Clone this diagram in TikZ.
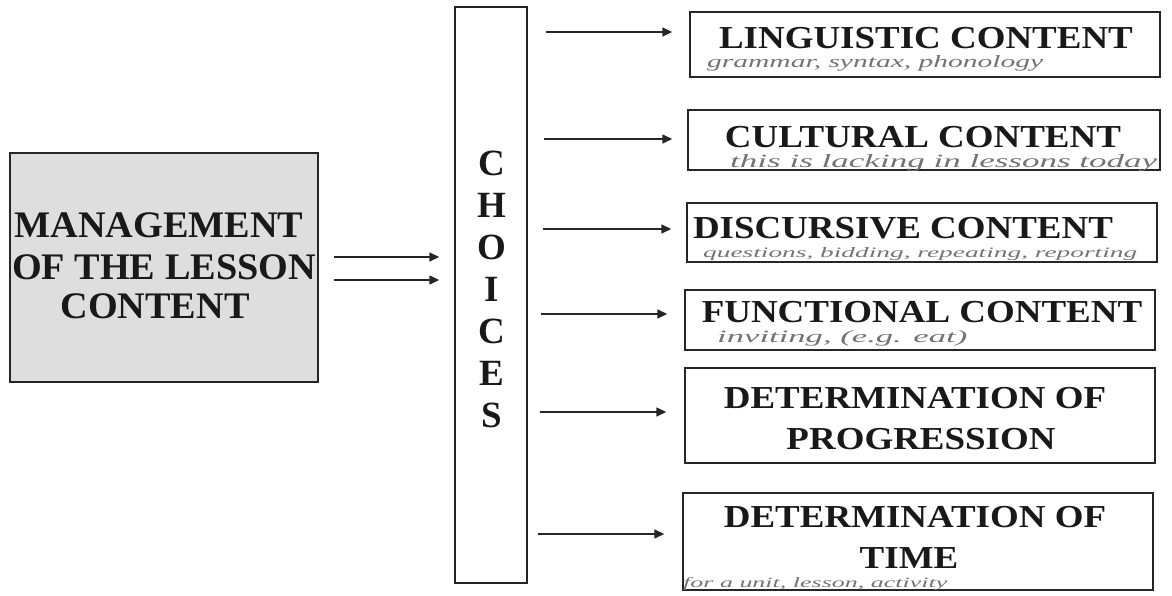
\documentclass[tikz,border=0pt]{standalone}
\usepackage{fontspec}
\setmainfont{Liberation Serif}
\newfontfamily\rightboxfont[FakeStretch=1.155]{Liberation Serif}
\newfontfamily\leftboxfont[FakeStretch=1.02]{Liberation Serif}
\usetikzlibrary{arrows.meta}
\newcommand{\handnote}[3]{\resizebox{#1}{#2}{\itshape #3}}
\begin{document}
\begin{tikzpicture}[x=1pt,y=-1pt,
  box/.style={draw=black!85, line width=1.4pt, inner sep=0pt},
  lbl/.style={anchor=base, inner sep=0pt, text=black!90},
  rtxt/.style={lbl, text depth=0pt, font=\rightboxfont\bfseries\fontsize{32}{36}\selectfont},
  ltxt/.style={lbl, font=\leftboxfont\bfseries\fontsize{37.5}{40}\selectfont},
  ctxt/.style={lbl, font=\bfseries\fontsize{37}{40}\selectfont},
  arr/.style={draw=black!85, line width=1.4pt, -{Triangle[length=10pt,width=9pt]}},
  note/.style={anchor=base west, inner sep=0pt, text=black!55}]
\useasboundingbox (0,0) rectangle (1172,595);

% left box
\node[box, fill=black!13, minimum width=308pt, minimum height=229pt] (mgmt) at (164,267.5) {};
\node[ltxt] (m1) at (159,237) {MANAGEMENT};
\node[ltxt] (m2) at (164,279) {OF THE LESSON};
\node[ltxt] (m3) at (155,318) {CONTENT};

% choices column
\node[box, minimum width=72pt, minimum height=576pt] (choices) at (491,295) {};
\foreach \l [count=\i] in {C,H,O,I,C,E,S}
  \node[ctxt] (ch\i) at (492,{163+42*(\i-1)+12.5}) {\l};

% right boxes
\node[box, minimum width=470pt, minimum height=65pt] (b1) at (925,44.5) {};
\node[box, minimum width=472pt, minimum height=60pt] (b2) at (924,140) {};
\node[box, minimum width=470pt, minimum height=59pt] (b3) at (922,232.5) {};
\node[box, minimum width=470pt, minimum height=60pt] (b4) at (920,320) {};
\node[box, minimum width=470pt, minimum height=95pt] (b5) at (920,415.5) {};
\node[box, minimum width=470pt, minimum height=97pt] (b6) at (918,541.5) {};

\node[rtxt] (t1) at (926,48) {LINGUISTIC CONTENT};
\node[rtxt] (t2) at (923,147) {CULTURAL CONTENT};
\node[rtxt] (t3) at (903,238) {DISCURSIVE CONTENT};
\node[rtxt] (t4) at (922,322) {FUNCTIONAL CONTENT};
\node[rtxt] (t5a) at (915,408) {DETERMINATION OF};
\node[rtxt] (t5b) at (921,449) {PROGRESSION};
\node[rtxt] (t6a) at (915,527) {DETERMINATION OF};
\node[rtxt] (t6b) at (909,568) {TIME};

% handwritten notes
\node[note] (n1) at (707,67) {\handnote{336pt}{12pt}{grammar, syntax, phonology}};
\node[note] (n2) at (730,167) {\handnote{427pt}{13pt}{this is lacking in lessons today}};
\node[note] (n3) at (703,257) {\handnote{434pt}{10pt}{questions, bidding, repeating, reporting}};
\node[note] (n4) at (717,342) {\handnote{250pt}{12pt}{inviting, (e.g. eat)}};
\node[note] (n6) at (683,587) {\handnote{264pt}{10pt}{for a unit, lesson, activity}};

% arrows left -> choices
\draw[arr, shorten <=15pt, shorten >=15pt] (mgmt.east |- 0,257) -- (choices.west |- 0,257);
\draw[arr, shorten <=15pt, shorten >=15pt] (mgmt.east |- 0,280) -- (choices.west |- 0,280);

% arrows choices -> boxes
\draw[arr, shorten <=18pt, shorten >=17pt] (choices.east |- 0,32) -- (b1.west |- 0,32);
\draw[arr, shorten <=16pt, shorten >=15pt] (choices.east |- 0,139) -- (b2.west |- 0,139);
\draw[arr, shorten <=15pt, shorten >=15pt] (choices.east |- 0,229) -- (b3.west |- 0,229);
\draw[arr, shorten <=13pt, shorten >=17pt] (choices.east |- 0,314) -- (b4.west |- 0,314);
\draw[arr, shorten <=12pt, shorten >=18pt] (choices.east |- 0,412) -- (b5.west |- 0,412);
\draw[arr, shorten <=10pt, shorten >=18pt] (choices.east |- 0,534) -- (b6.west |- 0,534);
\end{tikzpicture}
\end{document}
